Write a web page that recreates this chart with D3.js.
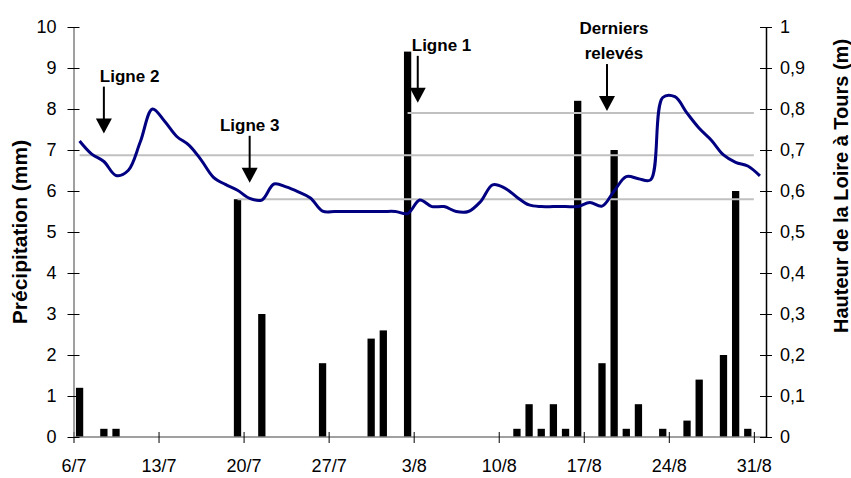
<!DOCTYPE html>
<html>
<head>
<meta charset="utf-8">
<script src="https://cdn.jsdelivr.net/npm/d3@7/dist/d3.min.js"></script>
<style>
  body { margin: 0; background: #fff; }
  text { font-family: "Liberation Sans", Arial, sans-serif; }
</style>
</head>
<body>
<svg id="chart" width="851" height="478"></svg>
<script>
// one category per day, 6/7 .. 31/8
var firstDay = new Date(2003, 6, 6);
var lastDay = new Date(2003, 7, 31);
var days = d3.timeDay.range(firstDay, d3.timeDay.offset(lastDay, 1));

// daily precipitation (mm), left axis
var pluie = [
    1.2, 0, 0.2, 0.2, 0, 0, 0, 0, 0, 0,
    0, 0, 0, 5.8, 0, 3.0, 0, 0, 0, 0,
    1.8, 0, 0, 0, 2.4, 2.6, 0, 9.4, 0, 0,
    0, 0, 0, 0, 0, 0, 0.2, 0.8, 0.2, 0.8,
    0.2, 8.2, 0, 1.8, 7.0, 0.2, 0.8, 0, 0.2, 0,
    0.4, 1.4, 0, 2.0, 6.0, 0.2, 0
];

// height of the Loire at Tours (m), right axis
var hauteur = [
    0.722, 0.690, 0.672, 0.638, 0.650, 0.720, 0.800, 0.770, 0.733, 0.712,
    0.676, 0.634, 0.616, 0.602, 0.582, 0.578, 0.617, 0.610, 0.598, 0.583,
    0.551, 0.550, 0.550, 0.550, 0.550, 0.550, 0.550, 0.545, 0.578, 0.562,
    0.562, 0.550, 0.550, 0.574, 0.615, 0.607, 0.585, 0.566, 0.562, 0.562,
    0.562, 0.562, 0.572, 0.563, 0.600, 0.635, 0.630, 0.627, 0.828, 0.830,
    0.790, 0.753, 0.724, 0.688, 0.670, 0.661, 0.637
];

var xTickLabels = ['6/7', '13/7', '20/7', '27/7', '3/8', '10/8', '17/8', '24/8', '31/8'];
var precipTicks = [0, 1, 2, 3, 4, 5, 6, 7, 8, 9, 10];
var hauteurTicks = [0, 0.1, 0.2, 0.3, 0.4, 0.5, 0.6, 0.7, 0.8, 0.9, 1];

// reference levels (m) drawn from a given day to the end
var refLabels = ['Ligne 1', 'Ligne 2', 'Ligne 3'];
var refLevels = [0.79, 0.687, 0.58];
var refStarts = ['2/8', '6/7', '19/7'];

// annotation arrows: label lines, day the arrow points at, tip value (mm)
var noteLabels = [['Ligne 2'], ['Ligne 3'], ['Ligne 1'], ['Derniers', 'relevés']];
var noteDays = ['8/7', '20/7', '3/8', '18/8'];
var noteTips = [7.4, 6.2, 8.15, 7.95];

var fmt = d3.timeFormat('%-d/%-m');
var keys = days.map(fmt);

var margin = { left: 73.5, right: 766, top: 27, bottom: 437 };
var svg = d3.select('#chart');

var x = d3.scaleBand().domain(keys).range([margin.left, margin.right]);
var step = x.step();
var xc = k => x(k) + step / 2;
var xt = d3.scaleTime()
    .domain([firstDay, d3.timeDay.offset(lastDay, 1)])
    .range([margin.left, margin.right]);
var yL = d3.scaleLinear().domain([0, 10]).range([margin.bottom, margin.top]);
var yR = d3.scaleLinear().domain([0, 1]).range([margin.bottom, margin.top]);

// bars
svg.append('g').selectAll('rect').data(pluie).enter()
    .append('rect')
    .attr('x', (d, i) => x(keys[i]) + step * 0.2)
    .attr('width', step * 0.6)
    .attr('y', d => yL(d))
    .attr('height', d => margin.bottom - yL(d))
    .attr('fill', '#000');

// reference lines
svg.append('g').selectAll('line').data(refLevels).enter()
    .append('line')
    .attr('x1', (d, i) => xc(refStarts[i]))
    .attr('x2', x('31/8'))
    .attr('y1', d => yR(d))
    .attr('y2', d => yR(d))
    .attr('stroke', '#c0c0c0')
    .attr('stroke-width', 2);

// axes
var tickDates = xTickLabels.map(k => days[keys.indexOf(k)]);
var xAxis = svg.append('g')
    .attr('transform', 'translate(0,' + margin.bottom + ')')
    .call(d3.axisBottom(xt).tickValues(tickDates).tickFormat(fmt).tickSizeOuter(0));
xAxis.select('.domain').attr('stroke', '#808080').attr('stroke-width', 1.5)
    .attr('d', 'M' + margin.left + ',0H' + margin.right);
xAxis.selectAll('.tick line').attr('y1', -5).attr('y2', 6).attr('stroke', '#000');
xAxis.selectAll('.tick text').attr('y', 35).attr('dy', 0)
    .attr('font-size', 18).attr('fill', '#000');

var leftAxis = svg.append('g')
    .attr('transform', 'translate(' + margin.left + ',0)')
    .call(d3.axisLeft(yL).tickValues(precipTicks).tickSizeInner(6).tickSizeOuter(0).tickPadding(11));
leftAxis.select('.domain').attr('stroke', '#808080').attr('stroke-width', 1.5);
leftAxis.selectAll('.tick line').attr('x1', 6).attr('stroke', '#000');
leftAxis.selectAll('.tick text').attr('font-size', 18).attr('fill', '#000');

var rightAxis = svg.append('g')
    .attr('transform', 'translate(' + margin.right + ',0)')
    .call(d3.axisRight(yR).tickValues(hauteurTicks)
        .tickFormat(d => d3.format('.1~f')(d).replace('.', ','))
        .tickSizeInner(6).tickSizeOuter(0).tickPadding(8));
rightAxis.select('.domain').attr('stroke', '#000').attr('stroke-width', 1.5);
rightAxis.selectAll('.tick line').attr('x1', -6).attr('stroke', '#000');
rightAxis.selectAll('.tick text').attr('font-size', 18).attr('fill', '#000');

// river height line
var line = d3.line()
    .x((d, i) => xc(keys[i]))
    .y(d => yR(d))
    .curve(d3.curveCatmullRom);
svg.append('path')
    .datum(hauteur)
    .attr('d', line)
    .attr('fill', 'none')
    .attr('stroke', '#000080')
    .attr('stroke-width', 3);

// axis titles
svg.append('text')
    .attr('transform', 'translate(27,' + (margin.top + margin.bottom) / 2 + ') rotate(-90)')
    .attr('text-anchor', 'middle')
    .attr('font-size', 21).attr('font-weight', 'bold')
    .text('Précipitation (mm)');
svg.append('text')
    .attr('transform', 'translate(848,186) rotate(-90)')
    .attr('text-anchor', 'middle')
    .attr('font-size', 20).attr('font-weight', 'bold')
    .text('Hauteur de la Loire à Tours (m)');

// annotations (small pixel nudges to sit like the original)
var arrowLen = 47;
var arrowDx = [0, 0, -2, 5];
var textAnchor = ['start', 'middle', 'start', 'middle'];
var textDx = [-4, 0, -6, 7];
noteLabels.forEach(function (lines, i) {
    var ax = xc(noteDays[i]) + arrowDx[i];
    var tip = yL(noteTips[i]);
    var g = svg.append('g');
    g.append('line')
        .attr('x1', ax).attr('x2', ax)
        .attr('y1', tip - arrowLen).attr('y2', tip - 12)
        .attr('stroke', '#000').attr('stroke-width', 2);
    g.append('path')
        .attr('d', 'M' + (ax - 8) + ',' + (tip - 15) + 'H' + (ax + 8) + 'L' + ax + ',' + tip + 'Z')
        .attr('fill', '#000');
    var tx = ax + textDx[i];
    var t = g.append('text')
        .attr('font-size', 17).attr('font-weight', 'bold')
        .attr('text-anchor', textAnchor[i])
        .attr('x', tx)
        .attr('y', tip - arrowLen - 5 - (lines.length - 1) * 25);
    lines.forEach(function (s, j) {
        t.append('tspan').attr('x', tx).attr('dy', j ? 25 : 0).text(s);
    });
});
</script>
</body>
</html>
